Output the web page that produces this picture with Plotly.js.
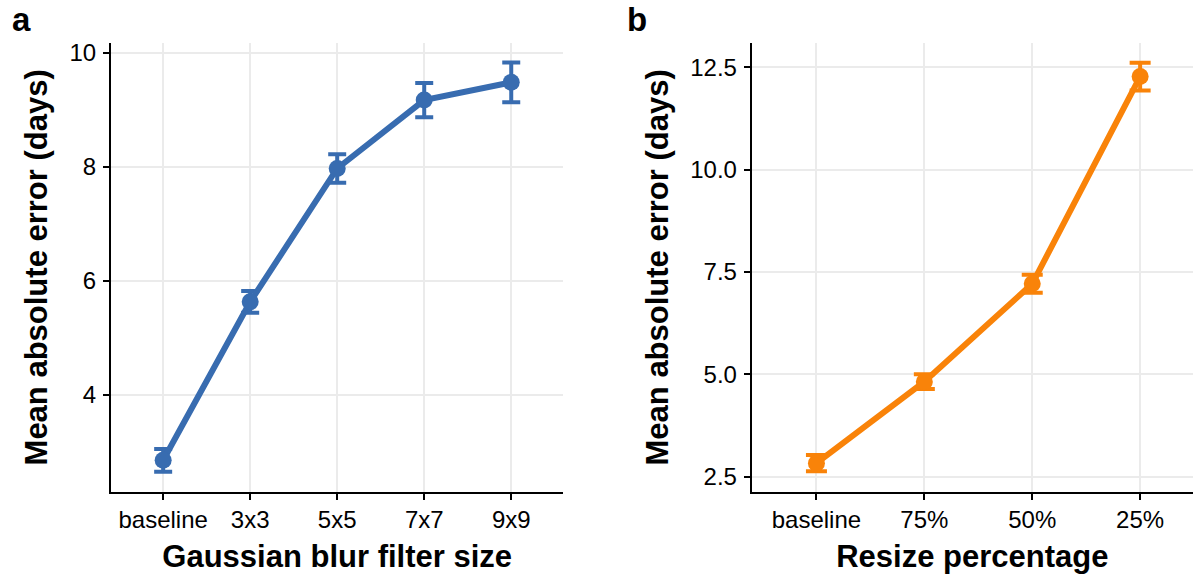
<!DOCTYPE html>
<html>
<head>
<meta charset="utf-8">
<script src="https://cdn.plot.ly/plotly-3.0.1.min.js"></script>
<style>html,body{margin:0;padding:0;background:#fff;}#chart{width:1193px;height:576px;}</style>
</head>
<body>
<div id="chart"></div>
<script>
// Panel a: Gaussian blur
const blurCategories = ["baseline", "3x3", "5x5", "7x7", "9x9"];
const blurMAE = [2.85, 5.63, 7.97, 9.17, 9.48];
const blurErr = [0.20, 0.19, 0.25, 0.30, 0.35];

// Panel b: Resize
const resizeCategories = ["baseline", "75%", "50%", "25%"];
const resizeMAE = [2.83, 4.82, 7.21, 12.27];
const resizeErr = [0.20, 0.18, 0.22, 0.34];

const blue = "#386CB0";
const orange = "#F98309";
const FONT = "Liberation Sans, Arial, sans-serif";

const traces = [
  {
    x: blurCategories, y: blurMAE, xaxis: "x", yaxis: "y",
    type: "scatter", mode: "lines+markers",
    line: {color: blue, width: 6},
    marker: {color: blue, size: 17},
    error_y: {type: "data", array: blurErr, visible: true, color: blue, thickness: 4, width: 9},
    showlegend: false, hoverinfo: "skip"
  },
  {
    x: resizeCategories, y: resizeMAE, xaxis: "x2", yaxis: "y2",
    type: "scatter", mode: "lines+markers",
    line: {color: orange, width: 6},
    marker: {color: orange, size: 17},
    error_y: {type: "data", array: resizeErr, visible: true, color: orange, thickness: 4, width: 10.5},
    showlegend: false, hoverinfo: "skip"
  }
];

const axisCommon = {
  showline: true, linecolor: "black", linewidth: 2,
  ticks: "outside", ticklen: 6, tickwidth: 2, tickcolor: "black",
  showgrid: true, gridcolor: "#EBEBEB", gridwidth: 2,
  zeroline: false,
  tickfont: {family: FONT, size: 24, color: "black"},
  fixedrange: true
};
const titleFont = {family: FONT, size: 31, color: "black", weight: "bold"};

const layout = {
  width: 1193, height: 576,
  margin: {l: 0, r: 0, t: 0, b: 0},
  paper_bgcolor: "white", plot_bgcolor: "white",
  xaxis: Object.assign({}, axisCommon, {
    domain: [0.0930, 0.4723], range: [-0.6, 4.6], type: "category",
    anchor: "y", ticklabelstandoff: 0,
    title: {text: "<b>Gaussian blur filter size</b>", font: titleFont, standoff: 13}
  }),
  yaxis: Object.assign({}, axisCommon, {
    domain: [0.1464, 0.9253], range: [2.30, 10.17],
    tickvals: [4, 6, 8, 10], anchor: "x", ticklabelstandoff: 2,
    title: {text: "<b>Mean absolute error (days)</b>", font: titleFont, standoff: 13}
  }),
  xaxis2: Object.assign({}, axisCommon, {
    domain: [0.6301, 1.0], range: [-0.6, 3.49], type: "category",
    anchor: "y2", ticklabelstandoff: 0,
    title: {text: "<b>Resize percentage</b>", font: titleFont, standoff: 13}
  }),
  yaxis2: Object.assign({}, axisCommon, {
    domain: [0.1464, 0.9253], range: [2.134, 13.09],
    tickvals: [2.5, 5, 7.5, 10, 12.5], ticktext: ["2.5", "5.0", "7.5", "10.0", "12.5"],
    tickmode: "array", anchor: "x2", ticklabelstandoff: 2,
    title: {text: "<b>Mean absolute error (days)</b>", font: titleFont, standoff: 12}
  }),
  annotations: [
    {text: "<b>a</b>", x: 10, y: 576 - 40, xref: "paper", yref: "paper", showarrow: false,
     xanchor: "left", yanchor: "bottom", font: {family: FONT, size: 33, color: "black"}},
    {text: "<b>b</b>", x: 625, y: 576 - 40, xref: "paper", yref: "paper", showarrow: false,
     xanchor: "left", yanchor: "bottom", font: {family: FONT, size: 33, color: "black"}}
  ]
};
// convert pixel positions of panel letters to paper coords
layout.annotations.forEach(a => { a.x = a.x / 1193; a.y = a.y / 576; });

Plotly.newPlot("chart", traces, layout, {staticPlot: true, displayModeBar: false});
</script>
</body>
</html>
